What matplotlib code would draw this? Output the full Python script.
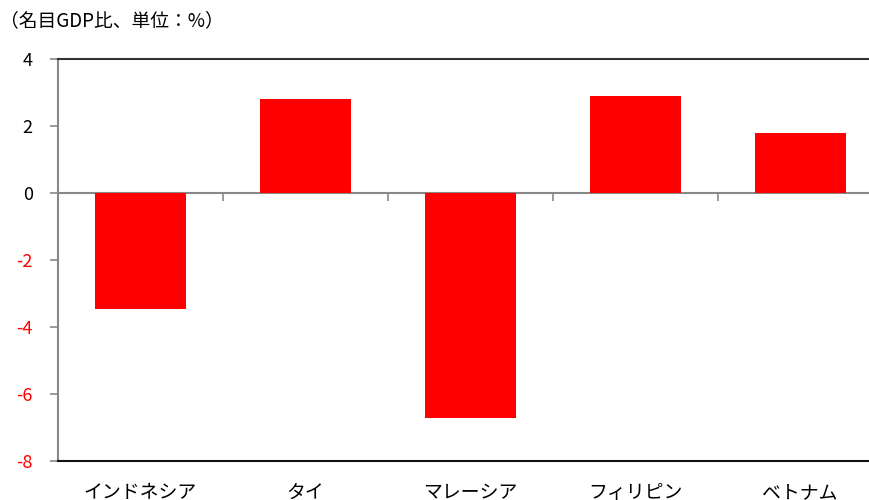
import matplotlib
matplotlib.use("Agg")
import matplotlib.pyplot as plt
import numpy as np

plt.rcParams['font.family'] = ['Noto Sans CJK JP', 'DejaVu Sans']

countries = ["インドネシア", "タイ", "マレーシア", "フィリピン", "ベトナム"]
values = [-3.45, 2.80, -6.73, 2.89, 1.78]
y_ticks = [4, 2, 0, -2, -4, -6, -8]
title = "（名目GDP比、単位：%）"

fig = plt.figure(figsize=(8.69, 5.0), dpi=100)
ax = fig.add_axes([0.0664, 0.078, 0.9494, 0.804])

x = np.arange(len(countries))
ax.bar(x, values, width=0.55, color="#ff0000", zorder=2)

ax.set_xlim(-0.5, len(countries) - 0.5)
ax.set_ylim(-8, 4)

# y axis
ax.set_yticks(y_ticks)
ax.set_yticklabels([str(v) for v in y_ticks], fontsize=13)
for lbl, v in zip(ax.get_yticklabels(), y_ticks):
    lbl.set_color("#ff0000" if v < 0 else "black")
ax.tick_params(axis="y", direction="out", length=6, width=1.2, color="#888888", pad=12)

# category labels along the bottom frame
ax.set_xticks(x)
ax.set_xticklabels(countries, fontsize=13.6)
ax.tick_params(axis="x", length=0, pad=15)

ax.spines["left"].set_color("#888888")
ax.spines["left"].set_linewidth(1.5)
ax.spines["right"].set_visible(False)
ax.spines["top"].set_color("#333333")
ax.spines["top"].set_linewidth(1.5)
ax.spines["bottom"].set_color("#111111")
ax.spines["bottom"].set_linewidth(1.5)

# zero line with tick marks between categories
zero_loc = (0 - (-8)) / (4 - (-8))
sec = ax.secondary_xaxis(zero_loc)
sec.set_xticks(x[:-1] + 0.5)
sec.set_xticklabels([])
sec.tick_params(direction="in", length=6, width=1.2, color="#888888")
for sp in sec.spines.values():
    sp.set_color("#888888")
    sp.set_linewidth(1.5)

fig.text(0.0, 0.958, title, fontsize=13.5, ha="left", va="center")

fig.savefig("out.png", dpi=100)
